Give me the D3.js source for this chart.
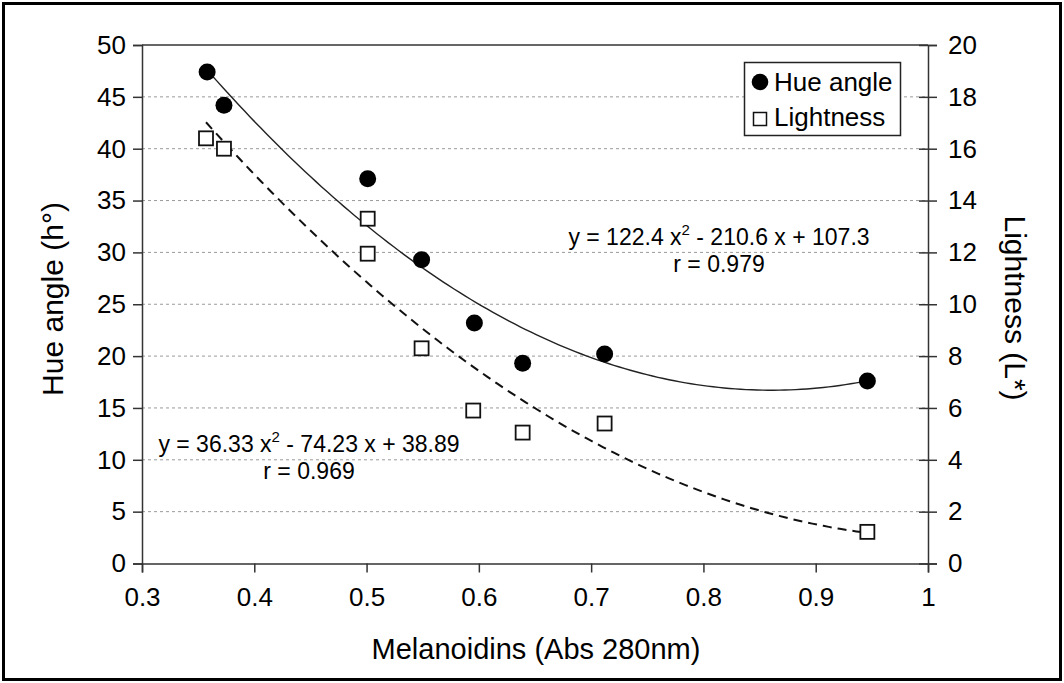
<!DOCTYPE html>
<html>
<head>
<meta charset="utf-8">
<script src="https://cdn.jsdelivr.net/npm/d3@7"></script>
<style>
  body { margin: 0; background: #fff; }
  svg { display: block; font-family: "Liberation Sans", Arial, sans-serif; }
</style>
</head>
<body>
<div id="chart"></div>
<script>
// 数据
const hueX = [0.358, 0.373, 0.501, 0.549, 0.596, 0.639, 0.712, 0.946]
const hueY = [47.4, 44.2, 37.1, 29.3, 23.2, 19.3, 20.2, 17.6]
const lightX = [0.357, 0.373, 0.501, 0.501, 0.549, 0.595, 0.639, 0.712, 0.946]
const lightY = [16.4, 16.0, 13.3, 11.95, 8.3, 5.9, 5.05, 5.4, 1.22]
// trendline coefficients (a, b, c) as printed on the chart
const hueFit = [122.4, -210.6, 107.3]
const lightFit = [36.33, -74.23, 38.89]
const fitRange = [0.357, 0.946]
const xTicks = [0.3, 0.4, 0.5, 0.6, 0.7, 0.8, 0.9, 1]
const leftTicks = [0, 5, 10, 15, 20, 25, 30, 35, 40, 45, 50]
const rightTicks = [0, 2, 4, 6, 8, 10, 12, 14, 16, 18, 20]

const W = 1064, H = 683
const m = { left: 142, right: 928, top: 45, bottom: 563.5 }

const svg = d3.select('#chart').append('svg')
  .attr('width', W)
  .attr('height', H)

// outer frame
svg.append('rect')
  .attr('x', 3.5).attr('y', 3.5)
  .attr('width', W - 7).attr('height', H - 7)
  .attr('fill', '#fff')
  .attr('stroke', '#000')
  .attr('stroke-width', 3)

const x = d3.scaleLinear().domain([0.3, 1]).range([m.left, m.right])
const yL = d3.scaleLinear().domain([0, 50]).range([m.bottom, m.top])
const yR = d3.scaleLinear().domain([0, 20]).range([m.bottom, m.top])

// grid lines
svg.append('g')
  .selectAll('line')
  .data(leftTicks.filter(d => d > 0 && d < 50))
  .join('line')
  .attr('x1', m.left).attr('x2', m.right)
  .attr('y1', d => yL(d)).attr('y2', d => yL(d))
  .attr('stroke', '#9a9a9a')
  .attr('stroke-width', 1)
  .attr('stroke-dasharray', '3,3')

// plot box top line
svg.append('line')
  .attr('x1', m.left).attr('x2', m.right)
  .attr('y1', m.top).attr('y2', m.top)
  .attr('stroke', '#333').attr('stroke-width', 1.5)

const tickFont = '26px'

function styleAxis(g) {
  g.select('.domain').attr('stroke', '#333').attr('stroke-width', 1.5)
  g.selectAll('.tick line').attr('stroke', '#333').attr('stroke-width', 1.5)
  g.selectAll('.tick text').style('font-size', tickFont).attr('fill', '#000')
    .attr('font-family', '"Liberation Sans", Arial, sans-serif')
}

// 左轴
const gL = svg.append('g')
  .attr('transform', `translate(${m.left},0)`)
  .call(d3.axisLeft(yL).tickValues(leftTicks).tickSize(9).tickPadding(7))
styleAxis(gL)

// 右轴 (ticks cross the axis)
const gR = svg.append('g')
  .attr('transform', `translate(${m.right},0)`)
  .call(d3.axisRight(yR).tickValues(rightTicks).tickSize(9).tickPadding(11))
styleAxis(gR)
gR.selectAll('.tick line').attr('x1', -9)

// x 轴
const gX = svg.append('g')
  .attr('transform', `translate(0,${m.bottom})`)
  .call(d3.axisBottom(x).tickValues(xTicks).tickFormat(d3.format('')).tickSize(9).tickPadding(15))
styleAxis(gX)

// axis titles
svg.append('text')
  .attr('transform', 'translate(63,299) rotate(-90)')
  .attr('text-anchor', 'middle')
  .style('font-size', '30px')
  .text('Hue angle (h°)')

svg.append('text')
  .attr('transform', 'translate(1005,308) rotate(90)')
  .attr('text-anchor', 'middle')
  .style('font-size', '30px')
  .text('Lightness (L*)')

svg.append('text')
  .attr('x', (m.left + m.right) / 2 + 1)
  .attr('y', 659)
  .attr('text-anchor', 'middle')
  .style('font-size', '29px')
  .text('Melanoidins (Abs 280nm)')

// trend lines
function fitPoints(c) {
  const n = 120
  const pts = []
  for (let i = 0; i <= n; i++) {
    const v = fitRange[0] + (fitRange[1] - fitRange[0]) * i / n
    pts.push([v, c[0] * v * v + c[1] * v + c[2]])
  }
  return pts
}

svg.append('path')
  .attr('d', d3.line().x(d => x(d[0])).y(d => yL(d[1]))(fitPoints(hueFit)))
  .attr('fill', 'none')
  .attr('stroke', '#222')
  .attr('stroke-width', 1.4)

svg.append('path')
  .attr('d', d3.line().x(d => x(d[0])).y(d => yR(d[1]))(fitPoints(lightFit)))
  .attr('fill', 'none')
  .attr('stroke', '#111')
  .attr('stroke-width', 2)
  .attr('stroke-dasharray', '9,6')

// Hue angle points
svg.append('g')
  .selectAll('circle')
  .data(hueX.map((v, i) => [v, hueY[i]]))
  .join('circle')
  .attr('cx', d => x(d[0]))
  .attr('cy', d => yL(d[1]))
  .attr('r', 8.5)
  .attr('fill', '#000')

// Lightness points
const s = 14
svg.append('g')
  .selectAll('rect')
  .data(lightX.map((v, i) => [v, lightY[i]]))
  .join('rect')
  .attr('x', d => x(d[0]) - s / 2)
  .attr('y', d => yR(d[1]) - s / 2)
  .attr('width', s).attr('height', s)
  .attr('fill', '#fff')
  .attr('stroke', '#111')
  .attr('stroke-width', 1.8)

// equations
function equation(cx, y, parts, rText) {
  const t = svg.append('text')
    .attr('x', cx).attr('y', y)
    .attr('text-anchor', 'middle')
    .style('font-size', '23px')
  t.append('tspan').text(parts[0])
  t.append('tspan').attr('dy', -10).style('font-size', '15px').text('2')
  t.append('tspan').attr('dy', 10).text(parts[1])
  svg.append('text')
    .attr('x', cx).attr('y', y + 27)
    .attr('text-anchor', 'middle')
    .style('font-size', '23px')
    .text(rText)
}
equation(719, 245, ['y = 122.4 x', ' - 210.6 x + 107.3'], 'r = 0.979')
equation(309, 452, ['y = 36.33 x', ' - 74.23 x + 38.89'], 'r = 0.969')

// legend
const lg = svg.append('g')
lg.append('rect')
  .attr('x', 744.5).attr('y', 62.5)
  .attr('width', 156).attr('height', 73)
  .attr('fill', '#fff')
  .attr('stroke', '#222')
  .attr('stroke-width', 1.5)
lg.append('circle').attr('cx', 760).attr('cy', 82).attr('r', 8.3).attr('fill', '#000')
lg.append('text').attr('x', 774).attr('y', 91).style('font-size', '26px').text('Hue angle')
lg.append('rect').attr('x', 753.5).attr('y', 112.5).attr('width', 13).attr('height', 13)
  .attr('fill', '#fff').attr('stroke', '#111').attr('stroke-width', 1.5)
lg.append('text').attr('x', 774).attr('y', 126).style('font-size', '26px').text('Lightness')
</script>
</body>
</html>
